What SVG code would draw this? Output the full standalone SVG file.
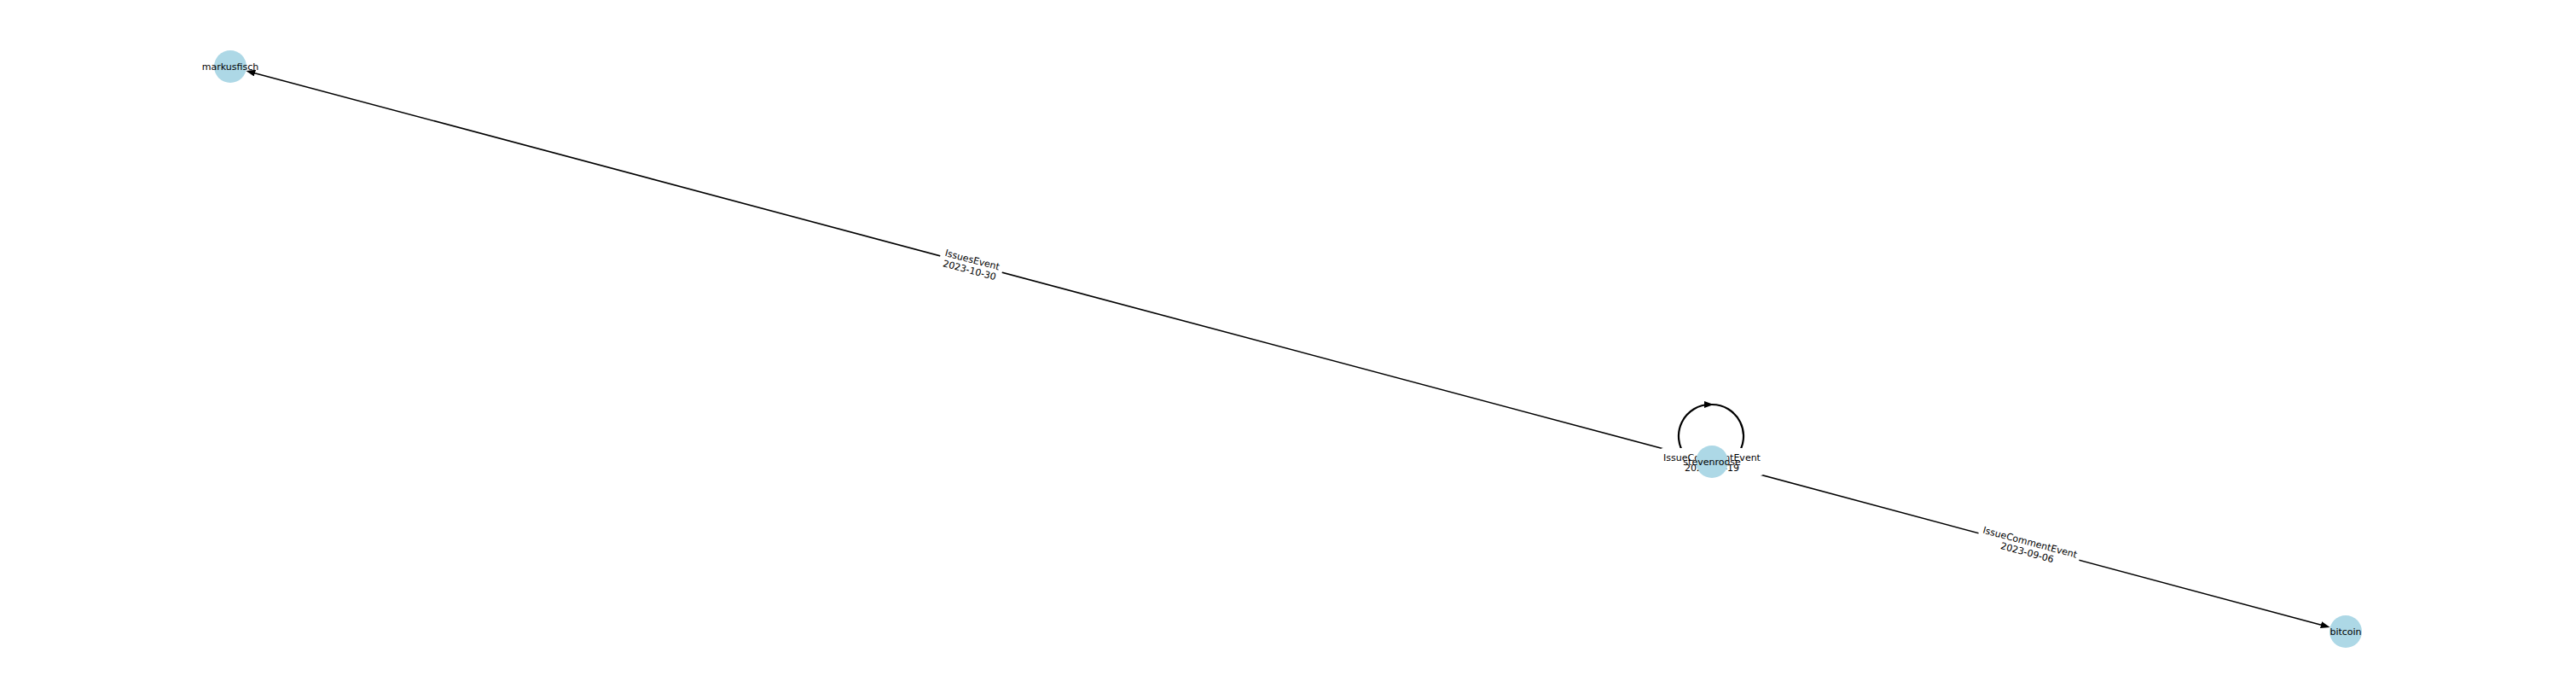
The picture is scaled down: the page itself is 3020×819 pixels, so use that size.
<svg xmlns="http://www.w3.org/2000/svg" width="3020" height="819" viewBox="0 0 3020 819">
<style>
.edge{fill:none;stroke:#000;stroke-width:1.6}
.loop{fill:none;stroke:#000;stroke-width:2.2}
.node{fill:#ADD8E6}
.lbl{font-family:"DejaVu Sans",sans-serif;font-size:11px;fill:#000;text-anchor:middle}
.bg{fill:#fff;stroke:none}
</style>
<defs>
<marker id="arr" markerUnits="userSpaceOnUse" viewBox="0 0 11 8" markerWidth="11" markerHeight="8" refX="8" refY="4" orient="auto">
<path d="M0,0 L11,4 L0,8 z" fill="#000"/>
</marker>
</defs>
<rect width="3020" height="819" fill="#fff"/>
<g id="connectors">
<path class="edge" d="M2007,541 L291.26,83.66" marker-end="url(#arr)"/>
<path class="edge" d="M2007,541 L2728.75,734.3" marker-end="url(#arr)"/>
<path class="loop" d="M1976,534 A37,37 0 0 1 2006,474 A37,37 0 0 1 2036,534" marker-mid="url(#arr)"/>
<g id="label-e1" transform="translate(1138.5,309.5) rotate(14.93)">
<rect class="bg" x="-37.5" y="-16" width="75" height="32" rx="4"/>
<text class="lbl"><tspan x="0" y="-1.5">IssuesEvent</tspan><tspan x="0" y="11">2023-10-30</tspan></text>
</g>
<g id="label-e2" transform="translate(2378.5,640.5) rotate(14.99)">
<rect class="bg" x="-61" y="-16" width="122" height="32" rx="4"/>
<text class="lbl"><tspan x="0" y="-1.5">IssueCommentEvent</tspan><tspan x="0" y="11">2023-09-06</tspan></text>
</g>
<g id="label-loop" transform="translate(2007,541)">
<rect class="bg" x="-61" y="-16" width="122" height="32" rx="4"/>
<text class="lbl"><tspan x="0" y="-1.5">IssueCommentEvent</tspan><tspan x="0" y="11">2023-09-19</tspan></text>
</g>
</g>
<g id="node-markusfisch">
<circle class="node" cx="270" cy="78" r="19"/>
<text class="lbl" x="270" y="82">markusfisch</text>
</g>
<g id="node-stevenroose">
<circle class="node" cx="2007" cy="541" r="19"/>
<text class="lbl" x="2007" y="545">stevenroose</text>
</g>
<g id="node-bitcoin">
<circle class="node" cx="2750" cy="740" r="19"/>
<text class="lbl" x="2750" y="744">bitcoin</text>
</g>
</svg>
